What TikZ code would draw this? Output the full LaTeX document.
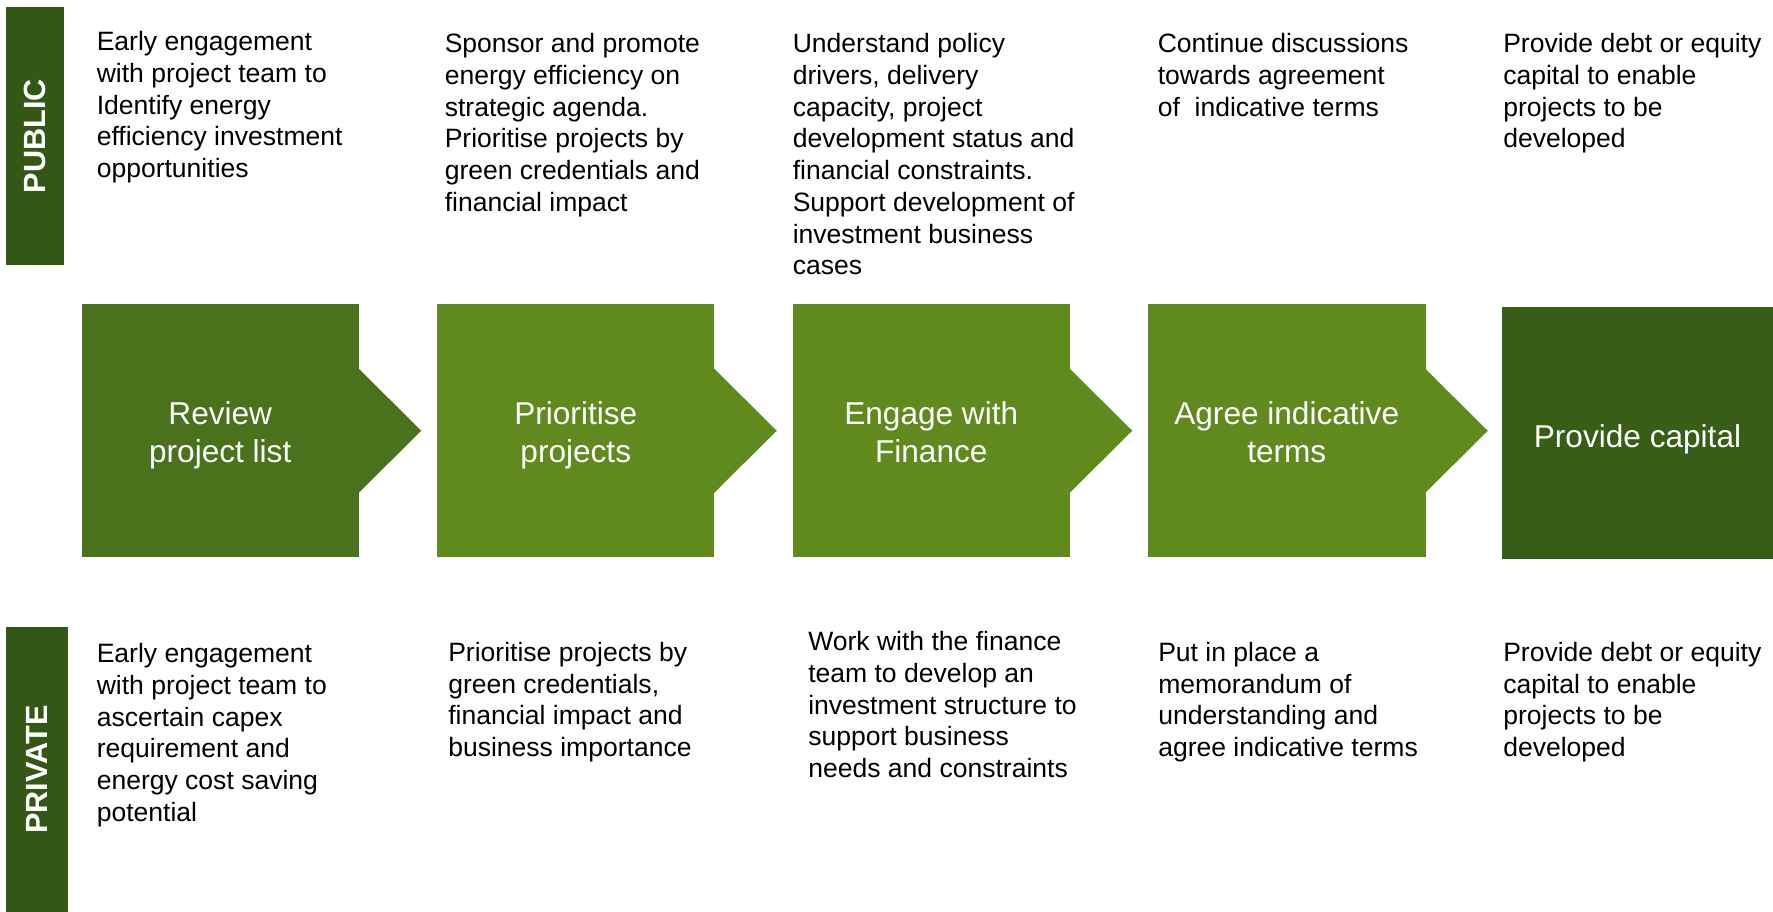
\documentclass[tikz,border=0pt]{standalone}
\usepackage{fontspec}
\setmainfont{Liberation Sans}
\definecolor{reviewgreen}{RGB}{74,114,29}
\definecolor{stepgreen}{RGB}{97,138,30}
\definecolor{capitalgreen}{RGB}{56,93,22}
\definecolor{bargreen}{RGB}{51,88,22}
\tikzset{
  stepbox/.style={rectangle, fill=stepgreen, text=white, align=center, inner sep=0pt,
    minimum width=208.1pt, minimum height=189.4pt, text height=53pt, text depth=5pt,
    font=\fontsize{23.7}{29}\selectfont},
  note/.style={anchor=north west, align=left, inner sep=0pt, execute at begin node=\strut,
    font=\fontsize{19.9}{23.8}\selectfont},
  sidebar/.style={rectangle, fill=bargreen, text=white, inner sep=0pt, rotate=90,
    font=\fontsize{23}{27}\selectfont\bfseries}
}
\begin{document}
\begin{tikzpicture}[x=0.75pt,y=-0.75pt]
    \useasboundingbox (0,0) rectangle (1773,912);
    % side bars
    \node[sidebar, minimum width=193.5pt, minimum height=43.5pt] (public) at (35,136) {PUBLIC};
    \node[sidebar, minimum width=213.75pt, minimum height=46.5pt] (private) at (37,769.5) {PRIVATE};
    % steps
    \node[stepbox, fill=reviewgreen] (review) at (220.25,430.75) {Review\\project list};
    \node[stepbox] (prioritise) at (575.75,430.75) {Prioritise\\projects};
    \node[stepbox] (engage) at (931.25,430.75) {Engage with\\Finance};
    \node[stepbox] (agree) at (1286.75,430.75) {Agree indicative\\terms};
    \node[stepbox, fill=capitalgreen, minimum width=203.25pt, minimum height=189pt,
        text height=26.4pt] (capital) at (1637.5,433) {Provide capital};
    \fill[reviewgreen] (review.east) ++(-1,-62.5) -- ++(63,62.5) -- ++(-63,62.5) -- cycle;
    \fill[stepgreen] (prioritise.east) ++(-1,-62.5) -- ++(63,62.5) -- ++(-63,62.5) -- cycle;
    \fill[stepgreen] (engage.east) ++(-1,-62.5) -- ++(63,62.5) -- ++(-63,62.5) -- cycle;
    \fill[stepgreen] (agree.east) ++(-1,-62.5) -- ++(63,62.5) -- ++(-63,62.5) -- cycle;
    % public notes
    \node[note] (pub-review) at (96.5,31.1) {Early engagement\\with project team to\\Identify energy\\efficiency investment\\opportunities};
    \node[note] (pub-prioritise) at (444.5,33.3) {Sponsor and promote\\energy efficiency on\\strategic agenda.\\Prioritise projects by\\green credentials and\\financial impact};
    \node[note] (pub-engage) at (792.5,33.3) {Understand policy\\drivers, delivery\\capacity, project\\development status and\\financial constraints.\\Support development of\\investment business\\cases};
    \node[note] (pub-agree) at (1157.5,33.3) {Continue discussions\\towards agreement\\of~ indicative terms};
    \node[note] (pub-capital) at (1503,33.3) {Provide debt or equity\\capital to enable\\projects to be\\developed};
    % private notes
    \node[note] (prv-review) at (96.5,643.1) {Early engagement\\with project team to\\ascertain capex\\requirement and\\energy cost saving\\potential};
    \node[note] (prv-prioritise) at (448,641.9) {Prioritise projects by\\green credentials,\\financial impact and\\business importance};
    \node[note] (prv-engage) at (808,631.2) {Work with the finance\\team to develop an\\investment structure to\\support business\\needs and constraints};
    \node[note] (prv-agree) at (1158,641.9) {Put in place a\\memorandum of\\understanding and\\agree indicative terms};
    \node[note] (prv-capital) at (1503,641.9) {Provide debt or equity\\capital to enable\\projects to be\\developed};
\end{tikzpicture}
\end{document}
